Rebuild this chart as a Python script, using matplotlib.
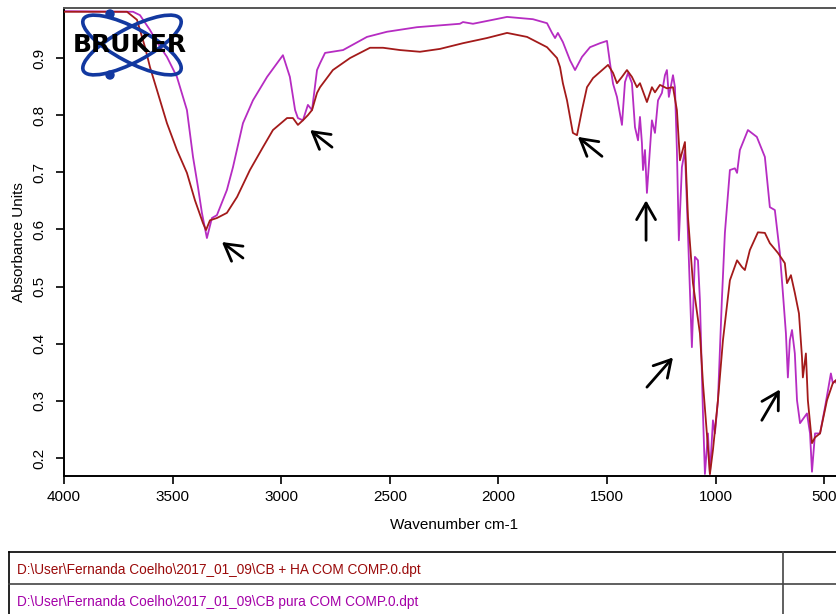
import matplotlib
matplotlib.use("Agg")
import matplotlib.pyplot as plt
from matplotlib.patches import Ellipse, Circle
from matplotlib.lines import Line2D

# ---------------- data ----------------
wn_pura = [4000, 3682, 3650, 3604, 3572, 3526, 3480, 3434, 3406, 3383, 3365, 3342, 3319, 3296,
           3250, 3222, 3176, 3130, 3065, 2992, 2960, 2936, 2923, 2900, 2877, 2858, 2835, 2821,
           2798, 2715, 2605, 2513, 2375, 2177, 2163, 2117, 2025, 1960, 1841, 1776, 1753, 1739,
           1726, 1703, 1670, 1647, 1615, 1578, 1532, 1500, 1486, 1472, 1454, 1431, 1417, 1403,
           1385, 1371, 1357, 1348, 1339, 1334, 1325, 1316, 1293, 1279, 1265, 1247, 1233, 1224,
           1215, 1196, 1187, 1178, 1169, 1155, 1141, 1127, 1109, 1095, 1081, 1072, 1058, 1049,
           1035, 1026, 1012, 1003, 989, 971, 957, 934, 911, 901, 888, 851, 810, 773, 750, 727,
           704, 690, 676, 667, 658, 648, 635, 625, 611, 579, 565, 556, 542, 519, 496, 469, 460,
           446, 420]
ab_pura = [0.982, 0.981, 0.975, 0.949, 0.928, 0.902, 0.867, 0.809, 0.727, 0.674, 0.629, 0.585,
           0.620, 0.625, 0.669, 0.709, 0.786, 0.826, 0.867, 0.905, 0.867, 0.809, 0.795, 0.791,
           0.818, 0.809, 0.879, 0.891, 0.909, 0.914, 0.937, 0.946, 0.954, 0.960, 0.963, 0.960,
           0.967, 0.972, 0.968, 0.961, 0.944, 0.935, 0.944, 0.928, 0.896, 0.879, 0.902, 0.919,
           0.926, 0.930, 0.891, 0.855, 0.832, 0.783, 0.858, 0.874, 0.856, 0.779, 0.756, 0.797,
           0.751, 0.704, 0.739, 0.664, 0.791, 0.769, 0.826, 0.839, 0.870, 0.879, 0.832, 0.870,
           0.849, 0.739, 0.581, 0.709, 0.739, 0.592, 0.394, 0.552, 0.546, 0.476, 0.278, 0.172,
           0.243, 0.172, 0.266, 0.243, 0.301, 0.476, 0.594, 0.704, 0.707, 0.699, 0.739, 0.774,
           0.762, 0.727, 0.639, 0.634, 0.559, 0.489, 0.418, 0.341, 0.406, 0.424, 0.383, 0.301,
           0.261, 0.278, 0.243, 0.176, 0.243, 0.243, 0.289, 0.348, 0.331, 0.336, 0.300]

wn_ha = [4000, 3710, 3664, 3627, 3604, 3572, 3526, 3480, 3434, 3397, 3360, 3346, 3328, 3296,
         3250, 3203, 3144, 3084, 3038, 2973, 2946, 2923, 2900, 2877, 2858, 2835, 2821, 2762,
         2683, 2591, 2531, 2453, 2361, 2269, 2163, 2053, 1960, 1868, 1776, 1730, 1716, 1703,
         1684, 1657, 1638, 1615, 1592, 1564, 1495, 1472, 1454, 1431, 1408, 1385, 1362, 1348,
         1316, 1293, 1279, 1256, 1224, 1196, 1178, 1164, 1155, 1141, 1127, 1104, 1072, 1058,
         1040, 1026, 1012, 989, 966, 934, 901, 878, 865, 842, 805, 773, 750, 713, 681, 671,
         653, 635, 616, 602, 598, 584, 575, 556, 542, 519, 487, 460, 446, 420]
ab_ha = [0.981, 0.981, 0.967, 0.919, 0.884, 0.844, 0.786, 0.739, 0.699, 0.651, 0.611, 0.599,
         0.616, 0.620, 0.629, 0.657, 0.704, 0.744, 0.774, 0.795, 0.795, 0.783, 0.791, 0.800,
         0.809, 0.839, 0.849, 0.879, 0.900, 0.918, 0.918, 0.914, 0.911, 0.916, 0.926, 0.935,
         0.944, 0.937, 0.919, 0.900, 0.884, 0.856, 0.826, 0.769, 0.765, 0.809, 0.849, 0.865,
         0.888, 0.874, 0.856, 0.867, 0.879, 0.867, 0.849, 0.856, 0.823, 0.849, 0.840, 0.853,
         0.847, 0.849, 0.809, 0.721, 0.734, 0.753, 0.622, 0.506, 0.418, 0.331, 0.243, 0.172,
         0.214, 0.301, 0.406, 0.511, 0.546, 0.534, 0.529, 0.564, 0.595, 0.594, 0.576, 0.559,
         0.541, 0.506, 0.520, 0.489, 0.453, 0.376, 0.341, 0.383, 0.301, 0.226, 0.236, 0.243,
         0.301, 0.331, 0.336, 0.300]

# arrows: (head wavenumber, head absorbance, tail wavenumber, tail absorbance)
arrows = [(3273, 0.578, 3176, 0.550),
          (2867, 0.774, 2766, 0.744),
          (1634, 0.762, 1523, 0.728),
          (1320, 0.651, 1320, 0.581),
          (1196, 0.376, 1316, 0.324),
          (704, 0.320, 787, 0.266)]

legend_files = [r"D:\User\Fernanda Coelho\2017_01_09\CB + HA COM COMP.0.dpt",
                r"D:\User\Fernanda Coelho\2017_01_09\CB pura COM COMP.0.dpt"]

xticks = [4000, 3500, 3000, 2500, 2000, 1500, 1000, 500]
yticks = [0.2, 0.3, 0.4, 0.5, 0.6, 0.7, 0.8, 0.9]

RED = "#a31a1a"
PURPLE = "#b62cc2"
RED_TXT = "#9a0a0a"
PURPLE_TXT = "#a400a8"

# ---------------- figure ----------------
W, H = 836, 614
fig = plt.figure(figsize=(W / 100, H / 100), dpi=100)
plt.rcParams['font.family'] = ['Liberation Sans', 'DejaVu Sans']

def fx(px):
    return px / W

def fy(py):
    return 1 - py / H

ax = fig.add_axes([fx(64), fy(476), fx(845) - fx(64), fy(8) - fy(476)])
ax.plot(wn_ha, ab_ha, color=RED, lw=1.3, zorder=3)
ax.plot(wn_pura, ab_pura, color=PURPLE, lw=1.3, zorder=2)
ax.set_xlim(4000, 404)
ax.set_ylim(0.1685, 0.9876)
ax.set_xticks(xticks)
ax.set_xticklabels([str(t) for t in xticks])
ax.set_yticks(yticks)
ax.set_yticklabels([f"{t:.1f}" for t in yticks], rotation=90, va='center')
ax.tick_params(axis='both', direction='out', length=6, width=1.2, labelsize=11, colors='black')
ax.tick_params(axis='x', pad=4)
ax.tick_params(axis='y', pad=7)
ax.spines['right'].set_visible(False)
ax.spines['left'].set_linewidth(1.4)
ax.spines['bottom'].set_linewidth(1.4)
ax.spines['top'].set_linewidth(1.4)
ax.spines['top'].set_color('#555555')
ax.set_xlabel("Wavenumber cm-1", fontsize=11, labelpad=10)
ax.set_ylabel("Absorbance Units", fontsize=11, labelpad=4)

for hx, hy, tx, ty in arrows:
    ax.annotate("", xy=(hx, hy), xytext=(tx, ty),
                arrowprops=dict(arrowstyle="->,head_length=0.7,head_width=0.4",
                                lw=2.0, color='black', mutation_scale=17,
                                shrinkA=0, shrinkB=0), zorder=5)

# ---------------- Bruker logo ----------------
lax = fig.add_axes([fx(60), fy(88), fx(205) - fx(60), fy(2) - fy(88)])
lax.set_xlim(60, 205)
lax.set_ylim(88, 2)
lax.axis('off')
blue = "#1238a0"
lax.add_patch(Ellipse((132, 45), 110, 34, angle=28, fill=False, ec=blue, lw=2.6))
lax.add_patch(Ellipse((132, 45), 110, 34, angle=-28, fill=False, ec=blue, lw=2.6))
lax.add_patch(Circle((110, 14), 4, color=blue))
lax.add_patch(Circle((110, 75), 4, color=blue))
lax.text(130, 45, "BRUKER", fontsize=18, fontweight='heavy', color='black',
         ha='center', va='center', family=['DejaVu Sans'])

# ---------------- file table ----------------
lw_t = 1.2
fig.add_artist(Line2D([fx(9), fx(9)], [fy(552), fy(620)], color='black', lw=lw_t))
fig.add_artist(Line2D([fx(9), 1.0], [fy(552), fy(552)], color='black', lw=lw_t))
fig.add_artist(Line2D([fx(9), 1.0], [fy(584), fy(584)], color='#444444', lw=lw_t))
fig.add_artist(Line2D([fx(783), fx(783)], [fy(552), fy(620)], color='#444444', lw=lw_t))
fig.text(fx(17), fy(570), legend_files[0], color=RED_TXT, fontsize=9.8, va='center', ha='left',
         family=['Liberation Sans Narrow', 'Liberation Sans', 'DejaVu Sans'])
fig.text(fx(17), fy(602), legend_files[1], color=PURPLE_TXT, fontsize=9.8, va='center', ha='left',
         family=['Liberation Sans Narrow', 'Liberation Sans', 'DejaVu Sans'])

fig.savefig("out.png", dpi=100)
